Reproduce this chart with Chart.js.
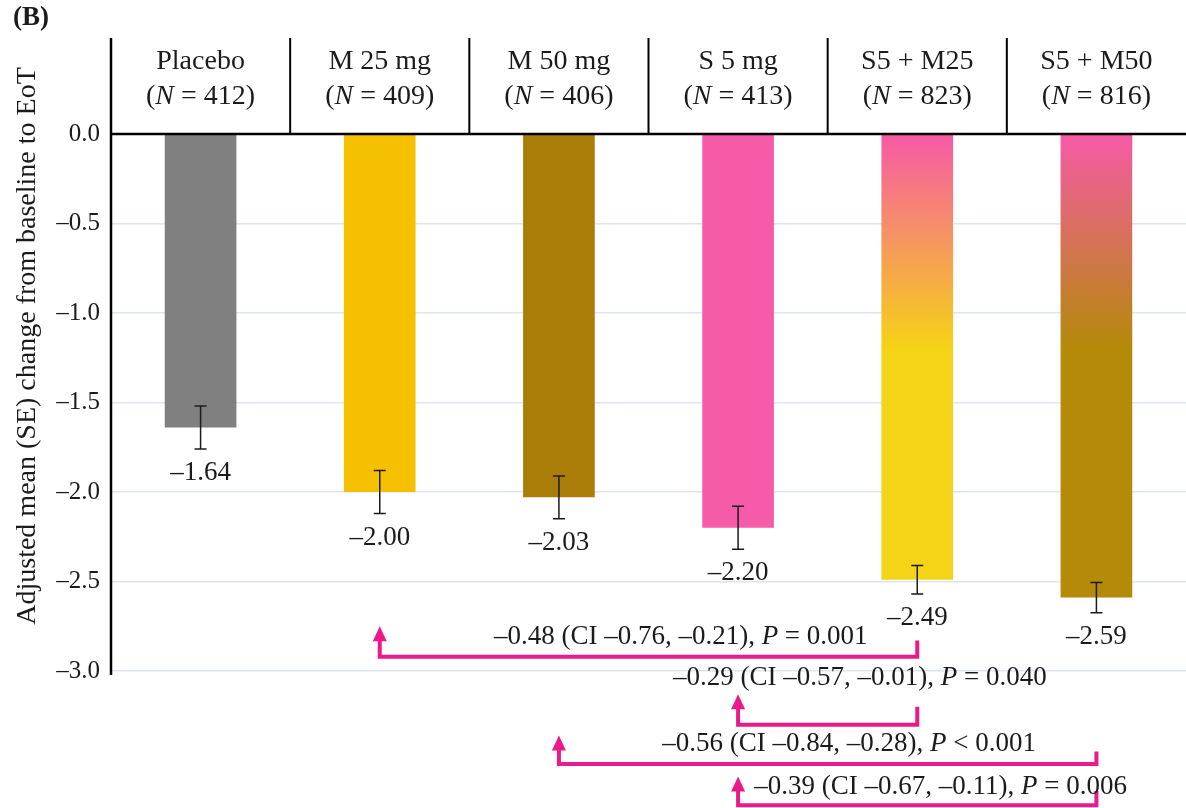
<!DOCTYPE html>
<html>
<head>
<meta charset="utf-8">
<script src="https://cdn.jsdelivr.net/npm/chart.js@4.4.0/dist/chart.umd.min.js"></script>
<style>
  html, body { margin: 0; padding: 0; background: #fff; }
</style>
</head>
<body>
<canvas id="chart" width="1186" height="808"></canvas>
<script>
// treatment groups, N per group, adjusted mean change and SE
const groups = ['Placebo', 'M 25 mg', 'M 50 mg', 'S 5 mg', 'S5 + M25', 'S5 + M50'];
const groupN = [412, 409, 406, 413, 823, 816];
const meanChange = [-1.64, -2.00, -2.03, -2.20, -2.49, -2.59];
const stdErr = [0.12, 0.12, 0.12, 0.12, 0.08, 0.085];
const yTicks = [0, -0.5, -1.0, -1.5, -2.0, -2.5, -3.0];

// pairwise comparisons (index into groups)
const compFrom = [1, 3, 2, 3];
const compTo = [4, 4, 5, 5];
const compDiff = ['–0.48 (CI –0.76, –0.21), ', '–0.29 (CI –0.57, –0.01), ', '–0.56 (CI –0.84, –0.28), ', '–0.39 (CI –0.67, –0.11), '];
const compP = [' = 0.001', ' = 0.040', ' < 0.001', ' = 0.006'];

const SERIF = '"Liberation Serif", "Times New Roman", serif';
const INK = '#1b1b1b';
const MAGENTA = '#ea1a8a';
const barColors = ['#808080', '#f5c000', '#aa7d08', '#f55ba8', ['#f65aa6', '#f5d316'], ['#f65aa6', '#b48a08']];

const dash = v => (v < 0 ? '–' : '') + Math.abs(v).toFixed(1);

// draw a line of text made of [text, italic] parts, centred on cx
function richText(ctx, parts, cx, cy, size) {
  const widths = parts.map(p => {
    ctx.font = (p[1] ? 'italic ' : '') + size + 'px ' + SERIF;
    return ctx.measureText(p[0]).width;
  });
  let x = cx - widths.reduce((a, b) => a + b, 0) / 2;
  ctx.textAlign = 'left';
  ctx.textBaseline = 'middle';
  parts.forEach((p, i) => {
    ctx.font = (p[1] ? 'italic ' : '') + size + 'px ' + SERIF;
    ctx.fillText(p[0], x, cy);
    x += widths[i];
  });
}

const decor = {
  id: 'decor',
  afterDatasetsDraw(chart, args, opts) {
    const ctx = chart.ctx;
    const y = chart.scales.y;
    const meta = chart.getDatasetMeta(0);
    ctx.save();
    ctx.strokeStyle = INK;
    ctx.fillStyle = INK;
    ctx.lineWidth = 1.5;
    meta.data.forEach((bar, i) => {
      const top = y.getPixelForValue(meanChange[i] + stdErr[i]);
      const bot = y.getPixelForValue(meanChange[i] - stdErr[i]);
      ctx.beginPath();
      ctx.moveTo(bar.x, top); ctx.lineTo(bar.x, bot);
      ctx.moveTo(bar.x - 6, top); ctx.lineTo(bar.x + 6, top);
      ctx.moveTo(bar.x - 6, bot); ctx.lineTo(bar.x + 6, bot);
      ctx.stroke();
      ctx.font = '27px ' + SERIF;
      ctx.textAlign = 'center';
      ctx.textBaseline = 'middle';
      ctx.fillText('–' + Math.abs(meanChange[i]).toFixed(2), bar.x, bot + 24);
    });
    ctx.restore();
  },
  afterDraw(chart, args, opts) {
    const ctx = chart.ctx;
    const ca = chart.chartArea;
    const x = chart.scales.x;
    const y = chart.scales.y;
    const catW = (ca.right - ca.left) / groups.length;
    ctx.save();

    // header boxes
    ctx.strokeStyle = '#000';
    ctx.lineWidth = 2.5;
    ctx.beginPath();
    ctx.moveTo(ca.left, opts.headerTop); ctx.lineTo(ca.left, ca.bottom + 4);
    ctx.moveTo(ca.left, ca.top); ctx.lineTo(ca.right, ca.top);
    ctx.stroke();
    ctx.lineWidth = 2;
    ctx.beginPath();
    for (let i = 1; i < groups.length; i++) {
      const bx = ca.left + i * catW;
      ctx.moveTo(bx, opts.headerTop); ctx.lineTo(bx, ca.top);
    }
    ctx.stroke();
    ctx.fillStyle = INK;
    groups.forEach((g, i) => {
      const cx = x.getPixelForValue(i);
      richText(ctx, [[g, false]], cx, opts.headerTop + 24, 28);
      richText(ctx, [['(', false], ['N', true], [' = ' + groupN[i] + ')', false]], cx, opts.headerTop + 59, 28);
    });

    // comparison brackets
    opts.brackets.forEach((b, k) => {
      const x1 = x.getPixelForValue(compFrom[k]);
      const x2 = x.getPixelForValue(compTo[k]);
      const tip = y.getPixelForValue(b.tip);
      const ly = y.getPixelForValue(b.line);
      const ey = y.getPixelForValue(b.end);
      ctx.strokeStyle = MAGENTA;
      ctx.fillStyle = MAGENTA;
      ctx.lineWidth = 4;
      ctx.lineJoin = 'miter';
      ctx.beginPath();
      ctx.moveTo(x1, tip + 12);
      ctx.lineTo(x1, ly);
      ctx.lineTo(x2, ly);
      ctx.lineTo(x2, ey);
      ctx.stroke();
      ctx.beginPath();
      ctx.moveTo(x1, tip);
      ctx.lineTo(x1 - 7, tip + 15);
      ctx.lineTo(x1 + 7, tip + 15);
      ctx.closePath();
      ctx.fill();
      ctx.fillStyle = INK;
      richText(ctx, [[compDiff[k], false], ['P', true], [compP[k], false]],
        x.getPixelForValue(b.tx), y.getPixelForValue(b.ty), 27);
    });

    // axis title and panel letter
    ctx.fillStyle = INK;
    ctx.save();
    ctx.translate(28, opts.titleY);
    ctx.rotate(-Math.PI / 2);
    ctx.font = '28px ' + SERIF;
    ctx.textAlign = 'center';
    ctx.textBaseline = 'middle';
    ctx.fillText('Adjusted mean (SE) change from baseline to EoT', 0, 0);
    ctx.restore();
    ctx.font = 'bold 27px ' + SERIF;
    ctx.textAlign = 'left';
    ctx.textBaseline = 'middle';
    ctx.fillText('(B)', 13, 18);
    ctx.restore();
  }
};

new Chart(document.getElementById('chart'), {
  type: 'bar',
  data: {
    labels: groups,
    datasets: [{
      data: meanChange,
      borderWidth: 0,
      barPercentage: 0.4,
      categoryPercentage: 1,
      backgroundColor: c => {
        const col = barColors[c.dataIndex];
        if (!Array.isArray(col)) return col;
        const ch = c.chart;
        if (!ch.chartArea) return col[0];
        const ys = ch.scales.y;
        const g = ch.ctx.createLinearGradient(0, ys.getPixelForValue(0), 0, ys.getPixelForValue(-1.2));
        g.addColorStop(0, col[0]);
        g.addColorStop(1, col[1]);
        return g;
      }
    }]
  },
  options: {
    responsive: false,
    animation: false,
    layout: { padding: { top: 134, bottom: 137, left: 0, right: 0 } },
    plugins: {
      legend: { display: false },
      tooltip: { enabled: false },
      decor: {
        headerTop: 38,
        titleY: 346,
        brackets: [
          { tip: -2.75, line: -2.92, end: -2.83, tx: 2.68, ty: -2.81 },
          { tip: -3.13, line: -3.30, end: -3.20, tx: 3.68, ty: -3.04 },
          { tip: -3.36, line: -3.52, end: -3.45, tx: 3.62, ty: -3.41 },
          { tip: -3.59, line: -3.75, end: -3.67, tx: 4.13, ty: -3.65 }
        ]
      }
    },
    scales: {
      x: { display: false },
      y: {
        min: -3,
        max: 0,
        afterBuildTicks: s => { s.ticks = yTicks.map(v => ({ value: v })); },
        afterFit: s => { s.width = 111; },
        border: { display: false },
        grid: {
          drawTicks: false,
          color: c => (c.tick && c.tick.value === 0 ? 'rgba(0,0,0,0)' : '#dfe4f1'),
          lineWidth: 1.5
        },
        ticks: {
          padding: 11,
          color: INK,
          font: { family: SERIF, size: 25 },
          callback: v => dash(v)
        }
      }
    }
  },
  plugins: [decor]
});
</script>
</body>
</html>
